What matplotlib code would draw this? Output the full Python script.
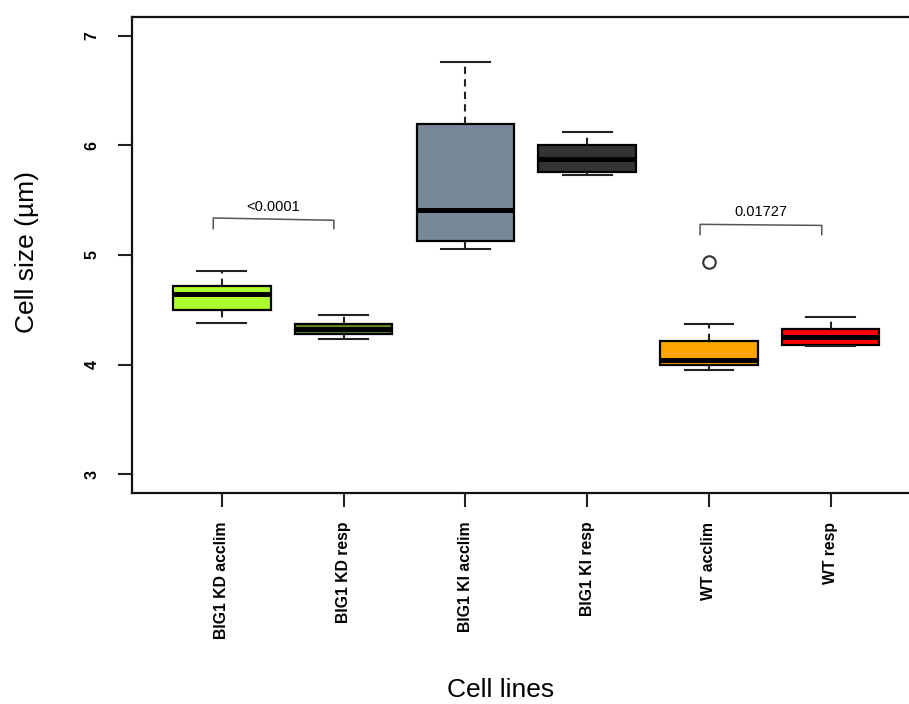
import matplotlib
matplotlib.use("Agg")
import matplotlib.pyplot as plt

plt.rcParams['font.family'] = ['Liberation Sans', 'DejaVu Sans']

# groups and box summaries (µm)
labels = ["BIG1 KD acclim", "BIG1 KD resp", "BIG1 KI acclim",
          "BIG1 KI resp", "WT acclim", "WT resp"]
whislo = [4.38, 4.23, 5.055, 5.73, 3.946, 4.17]
q1 = [4.50, 4.28, 5.13, 5.76, 3.995, 4.18]
med = [4.64, 4.32, 5.415, 5.88, 4.04, 4.25]
q3 = [4.72, 4.37, 6.195, 6.00, 4.215, 4.325]
whishi = [4.85, 4.455, 6.765, 6.12, 4.37, 4.43]
fliers = [[], [], [], [], [4.935], []]
colors = ["#ADFF2F", "#5E8A1E", "#778899", "#333333", "#FFA500", "#FF0000"]

# p-value brackets: (x1, x2, y left, y right, tick end, label, label y)
brackets = [
    (0.93, 1.92, 5.338, 5.317, 5.241, "<0.0001", 5.44),
    (4.927, 5.926, 5.28, 5.27, 5.186, "0.01727", 5.39),
]

fig = plt.figure(figsize=(9.09, 7.04), dpi=100)
ax = fig.add_axes([131.7 / 909, (704 - 492.7) / 704,
                   (920.9 - 131.7) / 909, (492.7 - 17.3) / 704])

stats = []
for i in range(len(labels)):
    stats.append(dict(whislo=whislo[i], q1=q1[i], med=med[i], q3=q3[i],
                      whishi=whishi[i], fliers=fliers[i], label=labels[i]))

bp = ax.bxp(stats, positions=range(1, 7), widths=0.8, capwidths=0.4,
            patch_artist=True, showfliers=True,
            boxprops=dict(edgecolor="black", linewidth=1.6),
            medianprops=dict(color="black", linewidth=3.6, solid_capstyle="butt"),
            whiskerprops=dict(color="#222222", linewidth=1.5, linestyle=(0, (3.5, 2.5))),
            capprops=dict(color="#222222", linewidth=1.5),
            flierprops=dict(marker="o", markersize=9, markerfacecolor="none",
                            markeredgecolor="#333333", markeredgewidth=1.5))
for patch, c in zip(bp["boxes"], colors):
    patch.set_facecolor(c)

for x1, x2, yl, yr, yt, txt, ty in brackets:
    ax.plot([x1, x1, x2, x2], [yt, yl, yr, yt], color="#555555", linewidth=1.1)
    ax.text((x1 + x2) / 2, ty, txt, ha="center", va="center", fontsize=10.5)

ax.set_xlim(0.26, 6.74)
ax.set_ylim(2.83, 7.17)
ax.set_yticks([3, 4, 5, 6, 7])
ax.set_yticklabels(["3", "4", "5", "6", "7"], rotation=90, va="center",
                   fontsize=11.5, fontweight="bold")
ax.set_xticks(range(1, 7))
ax.set_xticklabels(labels, rotation=90, fontsize=11.3, fontweight="bold")
ax.tick_params(axis="both", direction="out", length=10, width=1.5, color="#222222")
ax.tick_params(axis="x", pad=11)
ax.tick_params(axis="y", pad=13)

for sp in ax.spines.values():
    sp.set_linewidth(1.6)
    sp.set_color("#111111")

fig.text(501 / 909, 1 - 690 / 704, "Cell lines", ha="center",
         va="center", fontsize=19)
fig.text(27 / 909, 1 - 252 / 704, "Cell size (µm)", ha="center",
         va="center", rotation=90, fontsize=19)

fig.savefig("out.png", dpi=100)
